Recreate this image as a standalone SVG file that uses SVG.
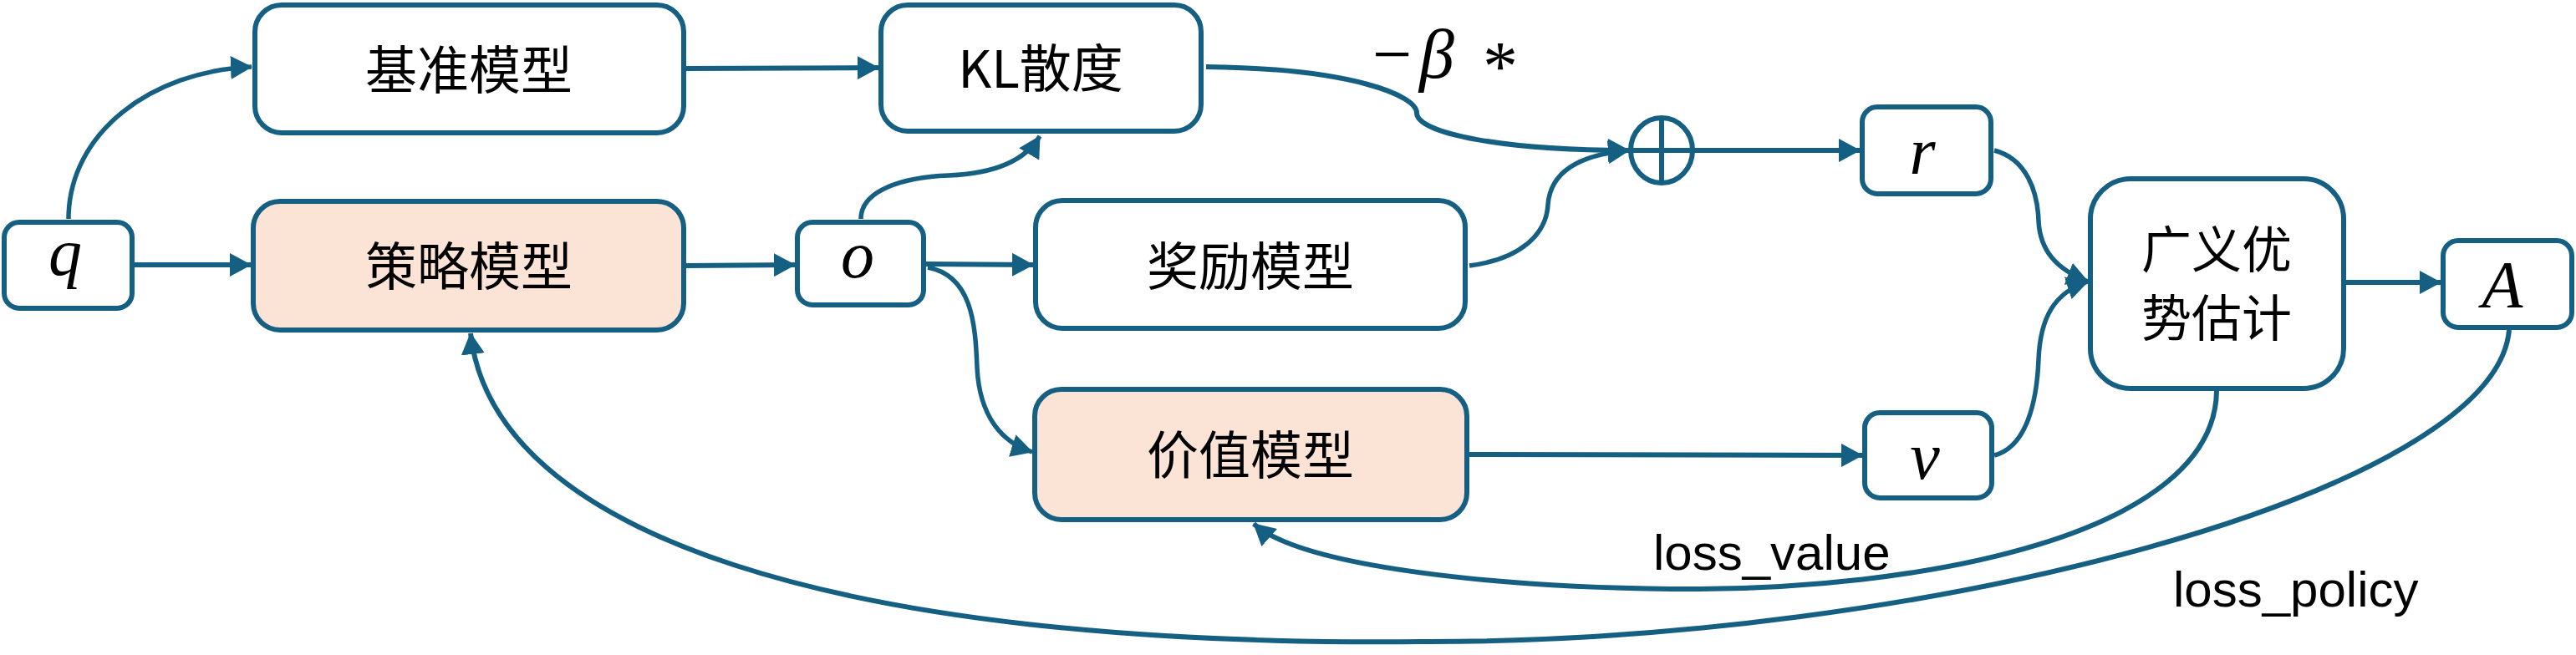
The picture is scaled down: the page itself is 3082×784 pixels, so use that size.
<svg xmlns="http://www.w3.org/2000/svg" width="3082" height="784" viewBox="0 0 3082 784">
<defs>
<style>
.box{fill:#FFFFFF;stroke:#156082;stroke-width:6}
.pink{fill:#FBE3D6}
.c{fill:none;stroke:#156082;stroke-width:6;marker-end:url(#ah)}
.t{stroke-width:5.5}
.plain{fill:none;stroke:#156082;stroke-width:6}
.cjk{font-family:"Noto Sans CJK SC","Noto Sans",sans-serif;font-size:62px;fill:#000;text-anchor:middle}
.cjk2{font-family:"Noto Sans CJK SC","Noto Sans",sans-serif;font-size:60px;fill:#000;text-anchor:middle}
.math{font-family:"Liberation Serif","DejaVu Serif",serif;font-style:italic;font-size:80px;fill:#000;text-anchor:middle}
.lbl{font-family:"Liberation Sans","Noto Sans",sans-serif;font-size:60px;fill:#000}
</style>
<marker id="ah" markerUnits="userSpaceOnUse" markerWidth="26" markerHeight="28" refX="25" refY="14" orient="auto" viewBox="0 0 26 28">
<path d="M0,0 L26,14 L0,28 Z" fill="#156082"/>
</marker>
</defs>
<rect width="3082" height="784" fill="#FFFFFF"/>

<g id="connectors">
<path class="c" d="M161,317 L300,317"/>
<path class="c t" d="M82,262 C82,160 180,85 301,80"/>
<path class="c" d="M821,82 L1051,81"/>
<path class="c" d="M821,318 L951,317"/>
<path class="c" d="M1108,316 L1236,317"/>
<path class="c t" d="M1030,262 C1030,228 1080,212 1135,210 C1185,208 1225,195 1244,163"/>
<path class="c t" d="M1110,320 C1162,330 1167,385 1169,440 C1172,500 1200,530 1235,541"/>
<path class="c" d="M1443,80 C1620,82 1695,115 1695,135 C1695,160 1800,180 1949,180"/>
<path class="c t" d="M1758,318 C1820,310 1850,280 1852,245 C1855,205 1890,185 1949,180"/>
<path class="c" d="M2025,180 L2225,180"/>
<path class="c" d="M1758,544 L2228,545"/>
<path class="c t" d="M2386,180 C2425,190 2438,230 2439,265 C2441,300 2460,322 2498,337"/>
<path class="c t" d="M2386,545 C2425,535 2437,480 2439,430 C2441,380 2458,350 2498,337"/>
<path class="c" d="M2807,338 L2920,338"/>
<path class="c" d="M2652,468 C2650,640 2300,708 2000,705 C1800,703 1560,680 1500,627"/>
<path class="c" d="M3002,395 C2985,590 2300,770 1700,768 C1000,775 590,640 563,399"/>
</g>

<g id="node-q">
<rect class="box" x="5" y="266" width="153" height="103" rx="18"/>
<text class="math" x="78" y="329">q</text>
</g>
<g id="node-ref">
<rect class="box" x="305" y="6" width="513" height="153" rx="32"/>
<text class="cjk" x="561" y="107">基准模型</text>
</g>
<g id="node-policy">
<rect class="box pink" x="303" y="241" width="515" height="154" rx="32"/>
<text class="cjk" x="561" y="342">策略模型</text>
</g>
<g id="node-kl">
<rect class="box" x="1054" y="6" width="383" height="151" rx="32"/>
<text class="cjk" x="1245" y="105">KL散度</text>
</g>
<g id="node-o">
<rect class="box" x="954" y="266" width="151" height="99" rx="18"/>
<text class="math" x="1026" y="332">o</text>
</g>
<g id="node-reward">
<rect class="box" x="1239" y="240" width="514" height="153" rx="32"/>
<text class="cjk" x="1496" y="342">奖励模型</text>
</g>
<g id="node-value">
<rect class="box pink" x="1238" y="466" width="517" height="156" rx="32"/>
<text class="cjk" x="1496" y="568">价值模型</text>
</g>
<g id="node-sum">
<ellipse class="plain" cx="1988" cy="180" rx="37" ry="39"/>
<path class="plain" d="M1951,180 L2025,180 M1988,141 L1988,219"/>
</g>
<g id="label-beta">
<text font-family="Liberation Serif, DejaVu Serif, serif" font-size="84" fill="#000"><tspan x="1642" y="93">−</tspan><tspan x="1698" y="93" font-style="italic">β</tspan><tspan x="1774" y="108">*</tspan></text>
</g>
<g id="node-r">
<rect class="box" x="2228" y="128" width="154" height="104" rx="18"/>
<text class="math" x="2300" y="208">r</text>
</g>
<g id="node-v">
<rect class="box" x="2231" y="494" width="152" height="102" rx="18"/>
<text class="math" x="2303" y="573">v</text>
</g>
<g id="node-gae">
<rect class="box" x="2501" y="214" width="303" height="251" rx="48"/>
<text class="cjk2" x="2652" y="321">广义优</text>
<text class="cjk2" x="2652" y="403">势估计</text>
</g>
<g id="node-A">
<rect class="box" x="2923" y="288" width="154" height="104" rx="18"/>
<text class="math" x="2994" y="368">A</text>
</g>
<g id="labels">
<text class="lbl" x="1978" y="682">loss_value</text>
<text class="lbl" x="2600" y="726">loss_policy</text>
</g>
</svg>
